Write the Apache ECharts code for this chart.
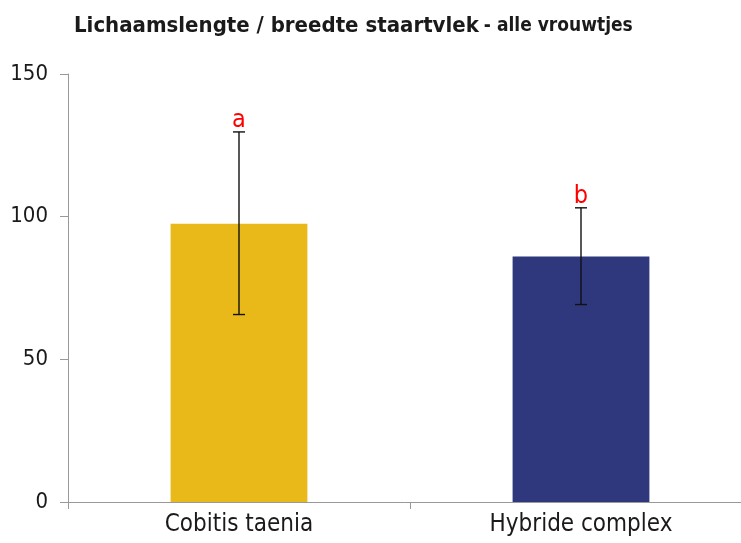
<!DOCTYPE html>
<html>
<head>
<meta charset="utf-8">
<script src="https://cdn.jsdelivr.net/npm/echarts@6/dist/echarts.min.js"></script>
<style>
  html, body { margin: 0; padding: 0; background: #fff; }
  #chart { width: 741px; height: 543px; }
</style>
</head>
<body>
<div id="chart"></div>
<script>
// data
const categories = ['Cobitis taenia', 'Hybride complex'];
const means = [97.5, 86];
const errLow = [65.7, 69.2];
const errHigh = [129.7, 103.1];
const letters = ['a', 'b'];
const barColors = ['#E9B819', '#2F387D'];
const yTicks = [0, 50, 100, 150];

const font = '"DejaVu Sans Condensed", "DejaVu Sans", sans-serif';

let myChart = echarts.init(document.getElementById('chart'));

myChart.setOption({
    animation: false,
    title: {
        left: 69,
        top: 10,
        text: '{main|Lichaamslengte / breedte staartvlek} {sub|- alle vrouwtjes}',
        textStyle: {
            rich: {
                main: { fontFamily: font, fontSize: 22, fontWeight: 'bold', color: '#1a1a1a' },
                sub: { fontFamily: font, fontSize: 19, fontWeight: 'bold', color: '#1a1a1a' }
            }
        }
    },
    grid: { left: 68, top: 74, width: 684, height: 428, outerBoundsMode: 'none' },
    xAxis: {
        type: 'category',
        data: categories,
        axisLine: { lineStyle: { color: '#999', width: 1 } },
        axisTick: { show: true, length: 7, lineStyle: { color: '#999' } },
        axisLabel: { fontFamily: font, fontSize: 24, color: '#1a1a1a', margin: 11 }
    },
    yAxis: {
        type: 'value',
        min: yTicks[0],
        max: yTicks[yTicks.length - 1],
        interval: 50,
        splitLine: { show: false },
        axisLine: { show: true, lineStyle: { color: '#999', width: 1 } },
        axisTick: { show: true, length: 8, lineStyle: { color: '#999' } },
        axisLabel: { fontFamily: font, fontSize: 22, color: '#1a1a1a', margin: 20 }
    },
    series: [
        {
            type: 'bar',
            barWidth: '40%',
            data: means.map(function (v, i) {
                return { value: v, itemStyle: { color: barColors[i] } };
            })
        },
        {
            type: 'custom',
            z: 5,
            data: categories.map(function (c, i) { return [i, errLow[i], errHigh[i]]; }),
            renderItem: function (params, api) {
                let i = api.value(0);
                let lo = api.coord([i, api.value(1)]);
                let hi = api.coord([i, api.value(2)]);
                let cap = 6;
                let style = { stroke: '#111', lineWidth: 1.4 };
                return {
                    type: 'group',
                    children: [
                        { type: 'line', shape: { x1: lo[0], y1: lo[1], x2: hi[0], y2: hi[1] }, style: style },
                        { type: 'line', shape: { x1: lo[0] - cap, y1: lo[1], x2: lo[0] + cap, y2: lo[1] }, style: style },
                        { type: 'line', shape: { x1: hi[0] - cap, y1: hi[1], x2: hi[0] + cap, y2: hi[1] }, style: style },
                        {
                            type: 'text',
                            x: hi[0],
                            y: hi[1] + 1,
                            style: {
                                text: letters[params.dataIndex],
                                fill: '#ff0000',
                                font: '25px ' + font,
                                align: 'center',
                                verticalAlign: 'bottom'
                            }
                        }
                    ]
                };
            }
        }
    ]
});
</script>
</body>
</html>
